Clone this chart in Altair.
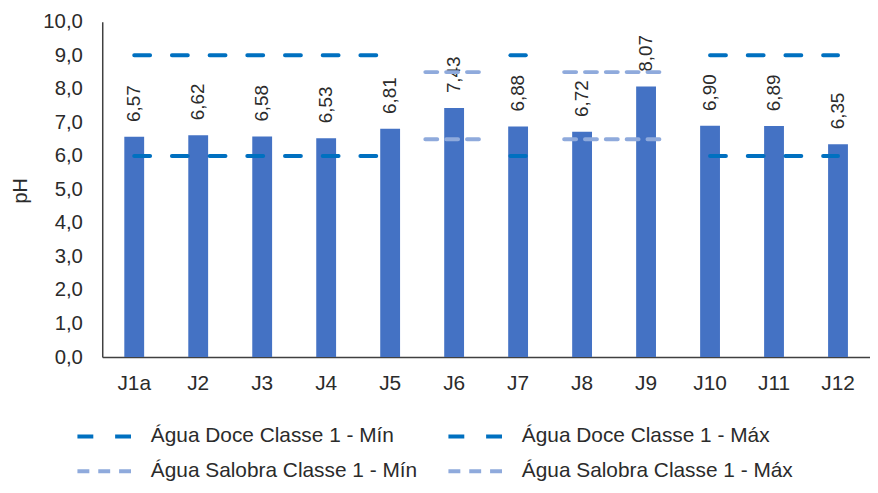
import altair as alt
import pandas as pd

categories = ["J1a", "J2", "J3", "J4", "J5", "J6", "J7", "J8", "J9", "J10", "J11", "J12"]
ph_values = [6.57, 6.62, 6.58, 6.53, 6.81, 7.43, 6.88, 6.72, 8.07, 6.90, 6.89, 6.35]

series_names = [
    "Água Doce Classe 1 - Mín",
    "Água Doce Classe 1 - Máx",
    "Água Salobra Classe 1 - Mín",
    "Água Salobra Classe 1 - Máx",
]
limit_values = [6.0, 9.0, 6.5, 8.5]
# runs of consecutive sampling points where each limit applies (start, end, overhang in category units)
doce_runs = [("J1a", "J5", 0.0), ("J7", "J7", 0.12), ("J10", "J12", 0.0)]
salobra_runs = [("J6", "J6", 0.45), ("J8", "J9", 0.28)]
y_ticks = [0, 1, 2, 3, 4, 5, 6, 7, 8, 9, 10]

DOCE = "#0070C0"
SALOBRA = "#8FAADC"
BAR = "#4472C4"
TEXT = "#2b2b2b"
AXIS = "#404040"
FONT = "Liberation Sans"

bars_df = pd.DataFrame({
    "cat": categories,
    "ph": ph_values,
    "label": [f"{v:.2f}".replace(".", ",") for v in ph_values],
})

rows = []
for name, val in zip(series_names, limit_values):
    runs = doce_runs if "Doce" in name else salobra_runs
    for s, e, ov in runs:
        rows.append({
            "series": name,
            "ph": val,
            "x0": categories.index(s) + 0.5 - ov,
            "x1": categories.index(e) + 0.5 + ov,
        })
seg_df = pd.DataFrame(rows)

W, H = 774, 338

x_band = alt.X(
    "cat:N", sort=categories,
    scale=alt.Scale(paddingInner=0, paddingOuter=0),
    axis=alt.Axis(title=None, labelAngle=0, ticks=False, domainColor=AXIS,
                  domainWidth=1.5, labelFontSize=21, labelPadding=16, labelColor=TEXT),
)
y_axis = alt.Axis(
    title="pH", values=y_ticks,
    labelExpr="replace(format(datum.value, '.1f'), '.', ',')",
    labelOverlap=False, labelSeparation=0,
    grid=False, ticks=False, domainColor=AXIS, domainWidth=1.5,
    labelFontSize=20.5, labelPadding=20, labelColor=TEXT,
    titleX=-82, titleY=170, titleAngle=270, titleAlign="center",
    titleBaseline="middle", titleFontSize=20, titleFontWeight="normal",
    titleColor=TEXT,
)
y_enc = alt.Y("ph:Q", scale=alt.Scale(domain=[0, 10], nice=False), axis=y_axis)

bars = alt.Chart(bars_df).mark_bar(color=BAR, width=alt.RelativeBandSize(0.31)).encode(
    x=x_band, y=y_enc
)
labels = alt.Chart(bars_df).mark_text(
    angle=270, align="left", baseline="middle", dx=15, fontSize=19, color=TEXT, font=FONT
).encode(x=alt.X("cat:N", sort=categories), y=y_enc, text="label:N")

rules = alt.Chart(seg_df).mark_rule(strokeWidth=4, strokeCap="round").encode(
    x=alt.X("x0:Q", scale=alt.Scale(domain=[0, 12], nice=False, zero=False), axis=None),
    x2="x1:Q",
    y=y_enc,
    color=alt.Color("series:N", scale=alt.Scale(domain=series_names,
                    range=[DOCE, DOCE, SALOBRA, SALOBRA]), legend=alt.Legend(title=None)),
    strokeDash=alt.StrokeDash("series:N", scale=alt.Scale(domain=series_names,
                    range=[[16, 22], [16, 22], [12, 9], [12, 9]]), legend=alt.Legend(title=None)),
)

chart = alt.layer(alt.layer(bars, labels), rules).resolve_scale(x="independent").properties(
    width=W, height=H,
    autosize="none",
    padding={"left": 95, "top": 12, "right": 0, "bottom": 127},
).configure_view(stroke=None).configure_axis(
    labelFont=FONT, titleFont=FONT
).configure_legend(
    orient="none", legendX=-7, legendY=406, columns=2, direction="horizontal",
    symbolType="M-3,0H3", symbolSize=400, symbolStrokeWidth=4,
    labelFont=FONT, labelFontSize=21, labelColor=TEXT, labelOffset=32,
    labelLimit=500, columnPadding=23, rowPadding=13,
)

chart.save("out.html", embed_options={"renderer": "svg", "actions": False})
